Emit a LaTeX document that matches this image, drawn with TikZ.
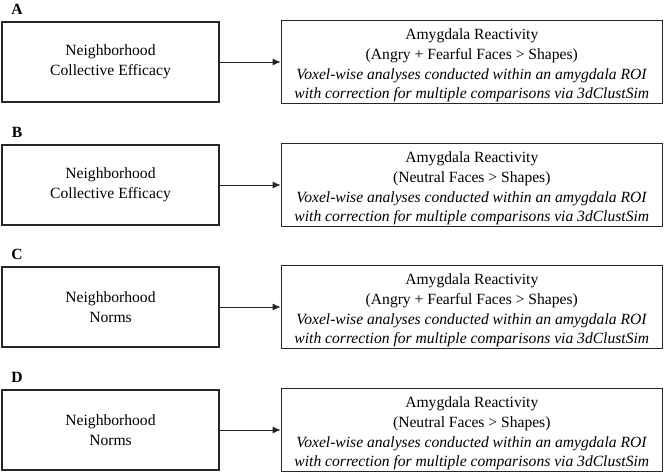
\documentclass[tikz,border=0pt]{standalone}
\usepackage{fontspec}
\setmainfont{Liberation Serif}
\usetikzlibrary{positioning,arrows.meta}
\newcommand{\boxfont}{\fontsize{15.6}{19.7}\selectfont}
\newcommand{\toppad}{\rule{0pt}{18pt}}
\newcommand{\roilines}{\textit{Voxel-wise analyses conducted within an amygdala ROI}\\
  \textit{with correction for multiple comparisons via 3dClustSim}}
\begin{document}
\begin{tikzpicture}[x=1pt, y=-1pt,
    predbox/.style={draw=black!85, line width=1.3pt, minimum width=217pt, minimum height=80pt,
      align=center, inner sep=0pt, font=\boxfont},
    outbox/.style={draw=black!85, line width=1.3pt, minimum width=381pt, minimum height=83pt,
      align=center, inner sep=0pt, font=\boxfont},
    panel/.style={font=\boxfont\bfseries}]
    \tikzset{>={Latex[length=8pt,width=7pt]}}
    \useasboundingbox (0,0) rectangle (665,475);
    % A
    \node [panel] (labA) at (17,9) {A};
    \node [predbox] (nbhdA) at (110.5,62) {Neighborhood\\Collective Efficacy};
    \node [outbox, right=61pt of nbhdA] (amygA) {\toppad Amygdala Reactivity\\(Angry + Fearful Faces > Shapes)\\\roilines};
    \draw [->, black!85, line width=0.8pt] (nbhdA) -- (amygA);
    % B
    \node [panel] (labB) at (17,132) {B};
    \node [predbox] (nbhdB) at (110.5,185) {Neighborhood\\Collective Efficacy};
    \node [outbox, right=61pt of nbhdB] (amygB) {\toppad Amygdala Reactivity\\(Neutral Faces > Shapes)\\\roilines};
    \draw [->, black!85, line width=0.8pt] (nbhdB) -- (amygB);
    % C
    \node [panel] (labC) at (17,254) {C};
    \node [predbox] (nbhdC) at (110.5,307) {Neighborhood\\Norms};
    \node [outbox, right=61pt of nbhdC] (amygC) {\toppad Amygdala Reactivity\\(Angry + Fearful Faces > Shapes)\\\roilines};
    \draw [->, black!85, line width=0.8pt] (nbhdC) -- (amygC);
    % D
    \node [panel] (labD) at (17,377) {D};
    \node [predbox] (nbhdD) at (110.5,430) {Neighborhood\\Norms};
    \node [outbox, right=61pt of nbhdD] (amygD) {\toppad Amygdala Reactivity\\(Neutral Faces > Shapes)\\\roilines};
    \draw [->, black!85, line width=0.8pt] (nbhdD) -- (amygD);
\end{tikzpicture}
\end{document}
